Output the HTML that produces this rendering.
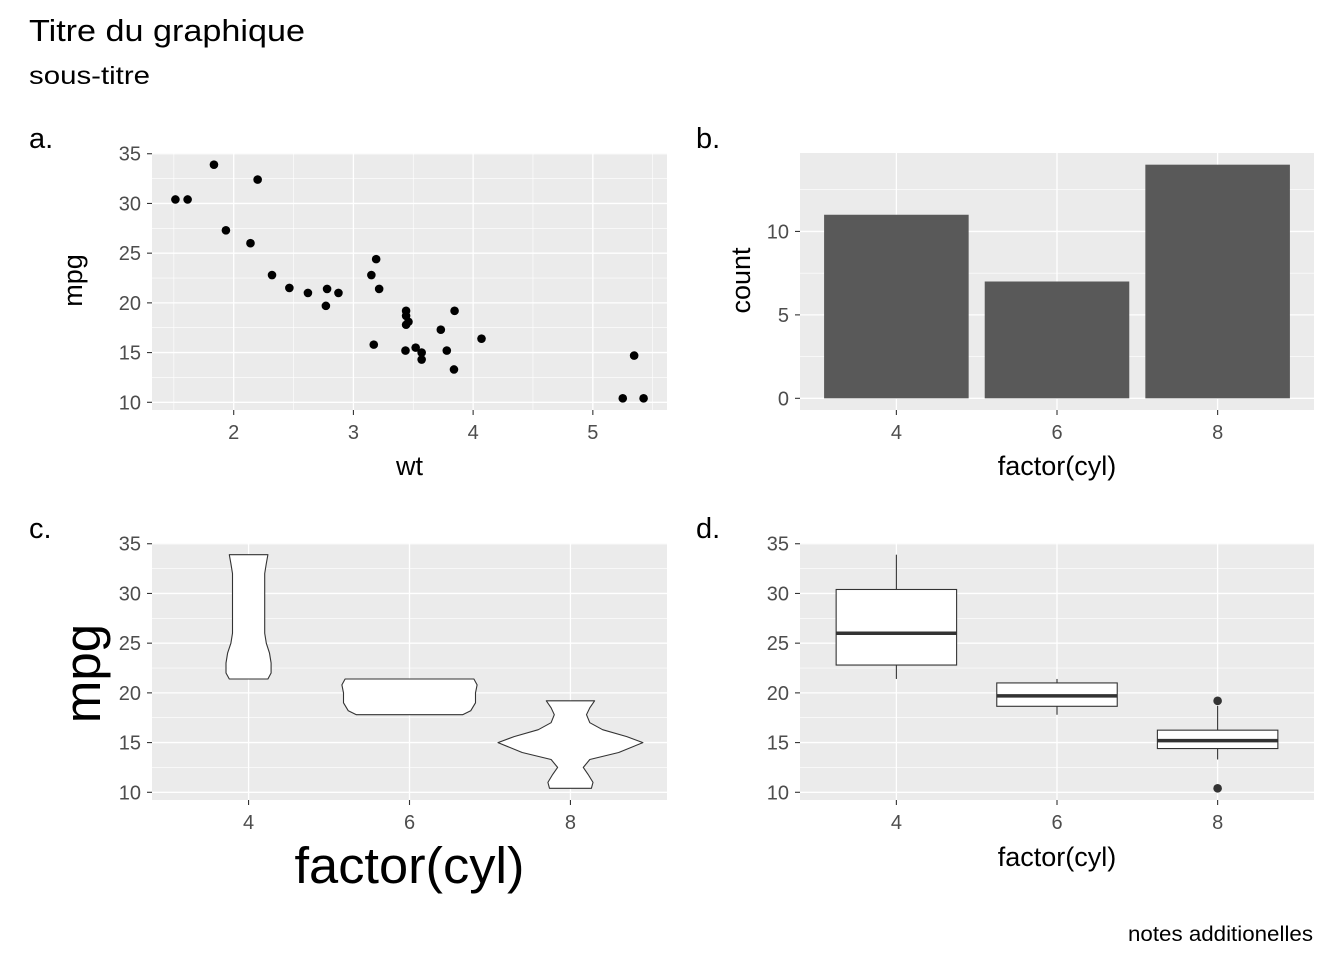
<!DOCTYPE html>
<html><head><meta charset="utf-8"><style>
html,body{margin:0;padding:0;background:#fff;}
svg{display:block;font-family:"Liberation Sans",Arial,sans-serif;}
</style></head><body>
<svg id="chart" width="1344" height="960" viewBox="0 0 1344 960" xmlns="http://www.w3.org/2000/svg">
<text x="29" y="41" font-size="31" textLength="276" lengthAdjust="spacingAndGlyphs" fill="#000">Titre du graphique</text>
<text x="29" y="84" font-size="25" textLength="121" lengthAdjust="spacingAndGlyphs" fill="#000">sous-titre</text>
<text x="1313" y="941" font-size="21" text-anchor="end" textLength="185" lengthAdjust="spacingAndGlyphs" fill="#000">notes additionelles</text>
</svg>
<script>
const wt=[2.62,2.875,2.32,3.215,3.44,3.46,3.57,3.19,3.15,3.44,3.44,4.07,3.73,3.78,5.25,5.424,5.345,2.2,1.615,1.835,2.465,3.52,3.435,3.84,3.845,1.935,2.14,1.513,3.17,2.77,3.57,2.78];
const mpg=[21,21,22.8,21.4,18.7,18.1,14.3,24.4,22.8,19.2,17.8,16.4,17.3,15.2,10.4,10.4,14.7,32.4,30.4,33.9,21.5,15.5,15.2,13.3,19.2,27.3,26,30.4,15.8,19.7,15,21.4];
const cyls=["4","6","8"];
const counts=[11,7,14];
const boxMin=[21.4,17.8,13.3];
const boxQ1=[22.8,18.65,14.4];
const boxMed=[26,19.7,15.2];
const boxQ3=[30.4,21,16.25];
const boxMax=[33.9,21.4,18.7];
const outlierCyl=[2,2];
const outlierMpg=[10.4,19.2];
const mpgTicks=[10,15,20,25,30,35];
const wtTicks=[2,3,4,5];
const countTicks=[0,5,10];
// violin profiles: [mpg, half-width in category units]
const violin4=[[21.4,0.12],[22,0.14],[23,0.14],[24,0.13],[25,0.11],[26,0.1],[27,0.1],[28,0.1],[29,0.1],[30,0.1],[31,0.1],[32,0.1],[33,0.11],[33.9,0.12]];
const violin6=[[17.8,0.33],[18.2,0.38],[19,0.41],[20,0.41],[20.8,0.42],[21.4,0.4]];
const violin8=[[10.4,0.13],[11,0.14],[11.8,0.11],[12.5,0.08],[13.3,0.12],[14,0.3],[15,0.45],[15.6,0.35],[16.3,0.2],[17,0.12],[17.8,0.1],[18.5,0.12],[19.2,0.15]];

const svg=document.getElementById('chart');
const NS='http://www.w3.org/2000/svg';
function el(tag,attrs,parent){const e=document.createElementNS(NS,tag);for(const k in attrs)e.setAttribute(k,attrs[k]);(parent||svg).appendChild(e);return e;}
function lin(d0,d1,r0,r1){return v=>r0+(v-d0)/(d1-d0)*(r1-r0);}

function panel(x0,x1,y0,y1,name){
  const g=el('g',{});
  
  
  const r=el('rect',{x:x0,y:y0,width:x1-x0,height:y1-y0,fill:'#ebebeb'},g);
  
  
  return g;
}
function hgrid(g,ys,x0,x1,w){ys.forEach(y=>el('line',{x1:x0,x2:x1,y1:y,y2:y,stroke:'#fff','stroke-width':w},g));}
function vgrid(g,xs,y0,y1,w){xs.forEach(x=>el('line',{x1:x,x2:x,y1:y0,y2:y1,stroke:'#fff','stroke-width':w},g));}
function yTicks(g,ticks,sy,x0,labels){ticks.forEach((t,i)=>{const y=sy(t);el('line',{x1:x0-5,x2:x0,y1:y,y2:y,stroke:'#333','stroke-width':1.1},g);const tx=el('text',{x:x0-11,y:y+7,'font-size':'20','text-anchor':'end',fill:'#4d4d4d'},g);tx.textContent=labels?labels[i]:t;});}
function xTicks(g,ticks,sx,y1,labels){ticks.forEach((t,i)=>{const x=sx(t);el('line',{x1:x,x2:x,y1:y1,y2:y1+5,stroke:'#333','stroke-width':1.1},g);const tx=el('text',{x:x,y:y1+29,'font-size':'20','text-anchor':'middle',fill:'#4d4d4d'},g);tx.textContent=labels?labels[i]:t;});}
function txt(g,s,x,y,size,name,rot,anchor){const t=el('text',{x:x,y:y,'font-size':size,'text-anchor':anchor||'middle',fill:'#000'},g);if(rot)t.setAttribute('transform','rotate(-90 '+x+' '+y+')');t.textContent=s;return t;}

// ---- Panel a: scatter
(function(){
  const X0=152,X1=667,Y0=153,Y1=410;
  const sx=lin(1.3175,5.6195,X0,X1), sy=lin(9.225,35.075,Y1,Y0);
  const g=panel(X0,X1,Y0,Y1,'panel-a-scatter');
  hgrid(g,[12.5,17.5,22.5,27.5,32.5].map(sy),X0,X1,0.6);
  vgrid(g,[1.5,2.5,3.5,4.5,5.5].map(sx),Y0,Y1,0.6);
  hgrid(g,mpgTicks.map(sy),X0,X1,1.3);
  vgrid(g,wtTicks.map(sx),Y0,Y1,1.3);
  wt.forEach((w,i)=>{const c=el('circle',{cx:sx(w),cy:sy(mpg[i]),r:4.3,fill:'#000'},g);});
  yTicks(g,mpgTicks,sy,X0);xTicks(g,wtTicks,sx,Y1);
  txt(g,'a.',29,148,29,'panel-tag-a',false,'start');
  txt(g,'wt',(X0+X1)/2,475,27,'x-axis-title');
  txt(g,'mpg',82,(Y0+Y1)/2-1,27,'y-axis-title',true);
})();

// ---- Panel b: bar
(function(){
  const X0=800,X1=1314,Y0=153,Y1=410;
  const sx=lin(0.4,3.6,X0,X1), sy=lin(-0.7,14.7,Y1,Y0);
  const g=panel(X0,X1,Y0,Y1,'panel-b-bar');
  hgrid(g,[2.5,7.5,12.5].map(sy),X0,X1,0.6);
  hgrid(g,countTicks.map(sy),X0,X1,1.3);
  vgrid(g,cyls.map((c,i)=>sx(i+1)),Y0,Y1,1.3);
  counts.forEach((c,i)=>{const r=el('rect',{x:sx(i+1-0.45),y:sy(c),width:sx(i+1.45)-sx(i+0.55),height:sy(0)-sy(c),fill:'#595959'},g);});
  yTicks(g,countTicks,sy,X0);xTicks(g,[1,2,3],sx,Y1,cyls);
  txt(g,'b.',696,148,29,'panel-tag-b',false,'start');
  txt(g,'factor(cyl)',(X0+X1)/2,475,27,'x-axis-title');
  txt(g,'count',750,(Y0+Y1)/2-1,27,'y-axis-title',true);
})();

// ---- Panel c: violin
(function(){
  const X0=152,X1=667,Y0=543,Y1=800;
  const sx=lin(0.4,3.6,X0,X1), sy=lin(9.225,35.075,Y1,Y0);
  const g=panel(X0,X1,Y0,Y1,'panel-c-violin');
  hgrid(g,[12.5,17.5,22.5,27.5,32.5].map(sy),X0,X1,0.6);
  hgrid(g,mpgTicks.map(sy),X0,X1,1.3);
  vgrid(g,cyls.map((c,i)=>sx(i+1)),Y0,Y1,1.3);
  [violin4,violin6,violin8].forEach((prof,i)=>{
    const c=i+1;
    const right=prof.map(p=>[sx(c+p[1]),sy(p[0])]);
    const left=prof.slice().reverse().map(p=>[sx(c-p[1]),sy(p[0])]);
    const pts=right.concat(left);
    let d='M'+pts.map(p=>p[0].toFixed(1)+','+p[1].toFixed(1)).join('L')+'Z';
    const p=el('path',{d:d,fill:'#fff',stroke:'#333','stroke-width':1.1,'stroke-linejoin':'round'},g);
    
  });
  yTicks(g,mpgTicks,sy,X0);xTicks(g,[1,2,3],sx,Y1,cyls);
  txt(g,'c.',29,538,29,'panel-tag-c',false,'start');
  const xt=txt(g,'factor(cyl)',(X0+X1)/2,883,51,'x-axis-title');
  xt.setAttribute('textLength','230');xt.setAttribute('lengthAdjust','spacingAndGlyphs');
  txt(g,'mpg',100,(Y0+Y1)/2+2,51,'y-axis-title',true);
})();

// ---- Panel d: boxplot
(function(){
  const X0=800,X1=1314,Y0=543,Y1=800;
  const sx=lin(0.4,3.6,X0,X1), sy=lin(9.225,35.075,Y1,Y0);
  const g=panel(X0,X1,Y0,Y1,'panel-d-boxplot');
  hgrid(g,[12.5,17.5,22.5,27.5,32.5].map(sy),X0,X1,0.6);
  hgrid(g,mpgTicks.map(sy),X0,X1,1.3);
  vgrid(g,cyls.map((c,i)=>sx(i+1)),Y0,Y1,1.3);
  cyls.forEach((c,i)=>{
    const cx=sx(i+1), xl=sx(i+1-0.375), xr=sx(i+1.375);
    const b=el('g',{},g);
    el('line',{x1:cx,x2:cx,y1:sy(boxMax[i]),y2:sy(boxQ3[i]),stroke:'#333','stroke-width':1.1},b);
    el('line',{x1:cx,x2:cx,y1:sy(boxQ1[i]),y2:sy(boxMin[i]),stroke:'#333','stroke-width':1.1},b);
    el('rect',{x:xl,y:sy(boxQ3[i]),width:xr-xl,height:sy(boxQ1[i])-sy(boxQ3[i]),fill:'#fff',stroke:'#333','stroke-width':1.1},b);
    el('line',{x1:xl,x2:xr,y1:sy(boxMed[i]),y2:sy(boxMed[i]),stroke:'#333','stroke-width':3.5},b);
  });
  outlierMpg.forEach((m,i)=>{const o=el('circle',{cx:sx(outlierCyl[i]+1),cy:sy(m),r:4.3,fill:'#333'},g);});
  yTicks(g,mpgTicks,sy,X0);xTicks(g,[1,2,3],sx,Y1,cyls);
  txt(g,'d.',696,538,29,'panel-tag-d',false,'start');
  txt(g,'factor(cyl)',(X0+X1)/2,866,27,'x-axis-title');
})();
</script>
</body></html>
